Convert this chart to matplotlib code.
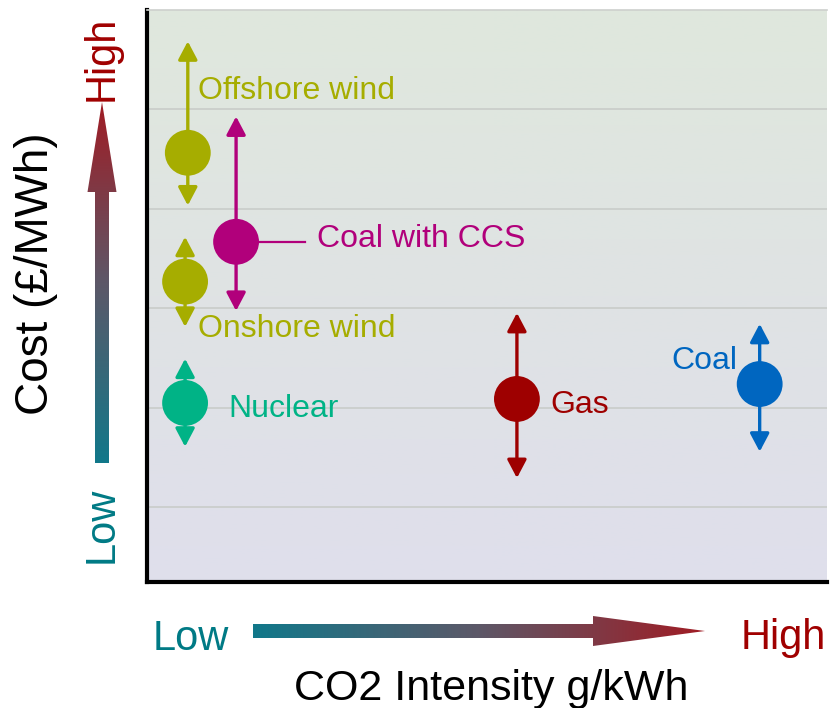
import matplotlib
matplotlib.use('Agg')
import matplotlib.pyplot as plt
import numpy as np
from matplotlib.patches import FancyArrowPatch, Polygon
from matplotlib.colors import LinearSegmentedColormap

plt.rcParams['font.family'] = ['Liberation Sans', 'DejaVu Sans']

# Technologies: relative CO2 intensity (0-100) and relative cost (0-115)
techs = ['Offshore wind', 'Coal with CCS', 'Onshore wind', 'Nuclear', 'Gas', 'Coal']
co2 = [6.0, 13.1, 5.6, 5.6, 54.4, 90.1]
cost = [86.3, 68.4, 60.4, 36.0, 36.8, 39.8]
cost_high = [108.7, 93.6, 69.4, 44.9, 54.1, 51.9]
cost_low = [75.7, 54.5, 51.3, 27.2, 20.9, 26.2]
colors = ['#a6ad00', '#b1007b', '#a6ad00', '#00b386', '#9e0000', '#0066c0']
grid_levels = [15, 35, 55, 75, 95]
ccs_leader_end = 23.2

# label offsets in points (dx, dy)
label_offsets = [(7, 39), (58, -4), (9, -40), (31, -10), (24, -10), (-16, 11)]
label_ha = ['left', 'left', 'left', 'left', 'left', 'right']

fig = plt.figure(figsize=(8.31, 7.08), dpi=100)
ax = fig.add_axes([147 / 831, 126 / 708, 680 / 831, 572 / 708])

# background gradient green (top) -> lavender (bottom)
bg = LinearSegmentedColormap.from_list('bg', ['#dfdfec', '#dfe3e4', '#dfe8dd'])
ax.imshow(np.linspace(0, 1, 256).reshape(-1, 1), cmap=bg, origin='lower',
          extent=[0, 100, 0, 115], aspect='auto', zorder=0)
ax.set_xlim(0, 100)
ax.set_ylim(0, 115)

ax.set_yticks(grid_levels)
ax.set_xticks([])
ax.yaxis.grid(True, color='#c9ccc9', lw=1.2)
ax.tick_params(length=0, labelleft=False, labelbottom=False)
for s in ['left', 'bottom']:
    ax.spines[s].set_linewidth(3)
    ax.spines[s].set_color('black')
ax.spines['top'].set_color('#cdd0cd')
ax.spines['top'].set_linewidth(1.2)
ax.spines['right'].set_visible(False)

# leader line for Coal with CCS
ax.plot([co2[1], ccs_leader_end], [cost[1], cost[1]], color=colors[1], lw=1.6, zorder=2)

# cost range arrows
for i in range(len(techs)):
    arr = FancyArrowPatch((co2[i], cost_low[i]), (co2[i], cost_high[i]),
                          arrowstyle='<|-|>,head_length=1.1,head_width=0.58',
                          mutation_scale=10, color=colors[i], lw=2.4,
                          shrinkA=0, shrinkB=0, zorder=3)
    ax.add_patch(arr)

ax.scatter(co2, cost, s=33 ** 2, c=colors, linewidths=0, zorder=4)

for i in range(len(techs)):
    ax.annotate(techs[i], (co2[i], cost[i]), xytext=label_offsets[i],
                textcoords='offset points', ha=label_ha[i], va='baseline',
                fontsize=23, color=colors[i], zorder=5)

# overlay in pixel coordinates for the gradient arrows and axis titles
ov = fig.add_axes([0, 0, 1, 1])
ov.axis('off')
grad = LinearSegmentedColormap.from_list('grad', ['#11788a', '#5d5868', '#a01c24'])

hpts = [(253, 624), (593, 624), (593, 616), (705, 631), (593, 646), (593, 638), (253, 638)]
hpoly = Polygon(hpts, closed=True, facecolor='none', edgecolor='none')
ov.add_patch(hpoly)
him = ov.imshow(np.linspace(0, 1, 256).reshape(1, -1), cmap=grad,
                extent=[253, 705, 646, 616], aspect='auto')
him.set_clip_path(hpoly)

vpts = [(95, 463), (95, 192), (87.5, 192), (102, 102), (116.5, 192), (109, 192), (109, 463)]
vpoly = Polygon(vpts, closed=True, facecolor='none', edgecolor='none')
ov.add_patch(vpoly)
vim = ov.imshow(np.linspace(1, 0, 256).reshape(-1, 1), cmap=grad,
                extent=[87, 117, 463, 102], aspect='auto')
vim.set_clip_path(vpoly)

ov.set_xlim(0, 831)
ov.set_ylim(708, 0)

low_col = '#007a85'
high_col = '#a00000'
ov.text(48, 274, 'Cost (£/MWh)', rotation=90, rotation_mode='anchor',
        ha='center', va='baseline', fontsize=33, color='black')
ov.text(113, 58, 'High', rotation=90, rotation_mode='anchor',
        ha='center', va='baseline', fontsize=30, color=high_col)
ov.text(113, 525, 'Low', rotation=90, rotation_mode='anchor',
        ha='center', va='baseline', fontsize=30, color=low_col)
ov.text(153, 650, 'Low', ha='left', va='baseline', fontsize=30, color=low_col)
ov.text(741, 649, 'High', ha='left', va='baseline', fontsize=30, color=high_col)
ov.text(491, 700, 'CO2 Intensity g/kWh', ha='center', va='baseline',
        fontsize=31, color='black')

fig.savefig('out.png', dpi=100)
